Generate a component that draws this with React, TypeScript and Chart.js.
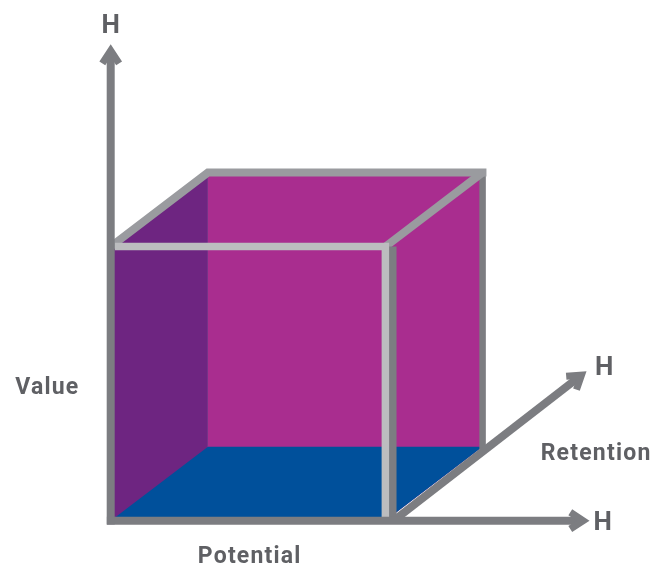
import { useEffect, useRef } from "react";
import { Chart, registerables } from "chart.js";

Chart.register(...registerables);

type P = [number, number];

// ---- data (cube units: front face is 10 x 10, depth is an oblique offset) ----
const BACK_WALL: P[] = [[3.54, 0], [10, 0], [13.54, 2.7], [13.54, 12.7], [3.54, 12.7]];
const LEFT_WALL: P[] = [[0, 0], [3.54, 0], [3.54, 12.7], [0, 10]];
const FLOOR: P[] = [[0, 0], [10, 0], [13.54, 2.7], [3.54, 2.7]];

const BACK_RIGHT_EDGE: P[] = [[13.54, 2.6], [13.54, 12.7]];
const TOP_BACK_EDGE: P[] = [[0, 10], [3.54, 12.7], [13.68, 12.7]];
const TOP_RIGHT_EDGE: P[] = [[10, 10], [13.54, 12.7]];
const SIDE_FRONT_EDGE: P[] = [[10.27, 0], [10.27, 10]];
const FRONT_EDGE: P[] = [[0.15, 10], [10, 10], [10, 0]];

const VALUE_AXIS: P[] = [[0, -0.14], [0, 17.15]];
const POTENTIAL_AXIS: P[] = [[-0.14, 0], [17.2, 0]];
const RETENTION_AXIS: P[] = [[10.3, 0], [17.14, 5.31]];

const LABEL_TEXT = ["H", "H", "H", "Value", "Potential", "Retention"];
const LABEL_X = [0, 17.97, 17.91, -2.33, 5.04, 17.65];
const LABEL_Y = [18.13, 5.65, 0, 4.93, -1.26, 2.5];
const LABEL_BIG = [true, true, true, false, false, false];

// ---- layout / style ----
const CANVAS_W = 666;
const CANVAS_H = 572;
const PX_PER_UNIT = 27.8;
const ORIGIN_PX = { x: 108, y: 524 };

const MAGENTA = "#a92d8f";
const PURPLE = "#6e2581";
const BLUE = "#00509b";
const DARK_GRAY = "#7c7d81";
const MID_GRAY = "#9a9b9f";
const LIGHT_GRAY = "#bcbdbf";
const TEXT_GRAY = "#5f6064";

const FONT_FAMILY = "Roboto, 'Open Sans', sans-serif";
const BIG_SIZE = 26;
const SMALL_SIZE = 23;
const SMALL_SPACING = 1.2;

const toData = (pts: P[]) => pts.map(([x, y]) => ({ x, y }));

function chevron(line: P[]): P[] {
  const a = line[0];
  const b = line[line.length - 1];
  const dx = b[0] - a[0];
  const dy = b[1] - a[1];
  const len = Math.hypot(dx, dy);
  const ux = dx / len;
  const uy = dy / len;
  const px = -uy;
  const py = ux;
  const L = 13 / PX_PER_UNIT;
  const h = 8.5 / PX_PER_UNIT;
  return [
    [b[0] - L * ux + h * px, b[1] - L * uy + h * py],
    [b[0], b[1]],
    [b[0] - L * ux - h * px, b[1] - L * uy - h * py],
  ];
}

function shaft(line: P[]): P[] {
  const a = line[0];
  const b = line[line.length - 1];
  const dx = b[0] - a[0];
  const dy = b[1] - a[1];
  const len = Math.hypot(dx, dy);
  const cut = 2.5 / PX_PER_UNIT;
  return [a, [b[0] - (dx / len) * cut, b[1] - (dy / len) * cut]];
}

function polygon(pts: P[], color: string) {
  return {
    data: toData([...pts, pts[0]]),
    fill: "shape",
    backgroundColor: color,
    borderColor: color,
    borderWidth: 0,
    pointRadius: 0,
    tension: 0,
  };
}

function stroke(pts: P[], color: string, width: number) {
  return {
    data: toData(pts),
    fill: false,
    borderColor: color,
    borderWidth: width,
    pointRadius: 0,
    tension: 0,
    borderCapStyle: "butt",
    borderJoinStyle: "miter",
  };
}

const labelPlugin = {
  id: "cubeLabels",
  afterDatasetsDraw(chart: any) {
    const { ctx, scales } = chart;
    ctx.save();
    ctx.fillStyle = TEXT_GRAY;
    ctx.textAlign = "center";
    ctx.textBaseline = "alphabetic";
    LABEL_TEXT.forEach((t, i) => {
      const big = LABEL_BIG[i];
      const size = big ? BIG_SIZE : SMALL_SIZE;
      const spacing = big ? 0 : SMALL_SPACING;
      ctx.font = `bold ${size}px ${FONT_FAMILY}`;
      if ("letterSpacing" in ctx) (ctx as any).letterSpacing = `${spacing}px`;
      const x = scales.x.getPixelForValue(LABEL_X[i]);
      const y = scales.y.getPixelForValue(LABEL_Y[i]);
      ctx.fillText(t, x + spacing / 2, y + (size * 0.711) / 2);
    });
    ctx.restore();
  },
};

export default function App() {
  const ref = useRef<HTMLCanvasElement | null>(null);

  useEffect(() => {
    if (!ref.current) return;
    const layers = [
      polygon(BACK_WALL, MAGENTA),
      polygon(LEFT_WALL, PURPLE),
      polygon(FLOOR, BLUE),
      stroke(BACK_RIGHT_EDGE, DARK_GRAY, 6.5),
      stroke(TOP_BACK_EDGE, MID_GRAY, 8),
      stroke(TOP_RIGHT_EDGE, MID_GRAY, 8),
      stroke(SIDE_FRONT_EDGE, DARK_GRAY, 7.5),
      stroke(shaft(RETENTION_AXIS), DARK_GRAY, 8),
      stroke(chevron(RETENTION_AXIS), DARK_GRAY, 7),
      stroke(FRONT_EDGE, LIGHT_GRAY, 7.5),
      stroke(shaft(POTENTIAL_AXIS), DARK_GRAY, 8),
      stroke(chevron(POTENTIAL_AXIS), DARK_GRAY, 7),
      stroke(shaft(VALUE_AXIS), DARK_GRAY, 8),
      stroke(chevron(VALUE_AXIS), DARK_GRAY, 7),
    ];
    const n = layers.length;
    const datasets = layers.map((d, i) => ({ ...d, order: n - i }));

    const xMin = -ORIGIN_PX.x / PX_PER_UNIT;
    const xMax = (CANVAS_W - ORIGIN_PX.x) / PX_PER_UNIT;
    const yMax = ORIGIN_PX.y / PX_PER_UNIT;
    const yMin = -(CANVAS_H - ORIGIN_PX.y) / PX_PER_UNIT;

    const chart = new Chart(ref.current, {
      type: "line",
      data: { datasets: datasets as any },
      options: {
        animation: false,
        responsive: false,
        events: [],
        layout: { padding: 0 },
        plugins: {
          legend: { display: false },
          tooltip: { enabled: false },
        },
        scales: {
          x: { type: "linear", min: xMin, max: xMax, display: false },
          y: { type: "linear", min: yMin, max: yMax, display: false },
        },
      },
      plugins: [labelPlugin],
    });

    let alive = true;
    if ((document as any).fonts && (document as any).fonts.load) {
      Promise.all([
        (document as any).fonts.load(`bold ${BIG_SIZE}px Roboto`),
        (document as any).fonts.load(`bold ${SMALL_SIZE}px Roboto`),
      ]).then(() => {
        if (alive) chart.update();
      }).catch(() => {});
    }

    return () => {
      alive = false;
      chart.destroy();
    };
  }, []);

  return (
    <div style={{ position: "fixed", left: 0, top: 0, width: CANVAS_W, height: CANVAS_H, background: "#fff" }}>
      <canvas ref={ref} width={CANVAS_W} height={CANVAS_H} style={{ width: CANVAS_W, height: CANVAS_H, display: "block" }} />
    </div>
  );
}
